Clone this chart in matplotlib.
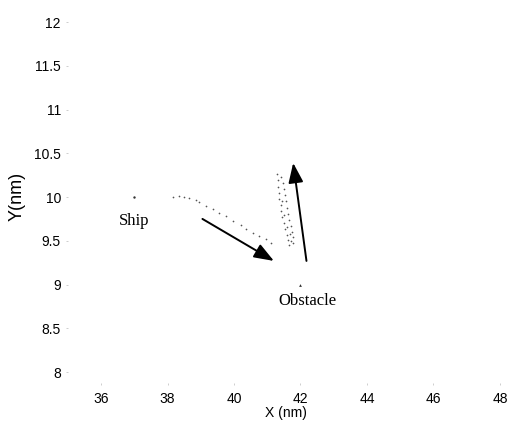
import matplotlib.pyplot as plt

# ship and obstacle positions (nm)
ship_pos = (37.0, 10.0)
obstacle_pos = (42.0, 9.0)

# ship trajectory dots
path_x = [38.16, 38.34, 38.49, 38.64, 38.85, 38.94, 39.15, 39.36, 39.54,
          39.75, 39.96, 40.20, 40.35, 40.56, 40.74, 40.95, 41.10]
path_y = [10.00, 10.01, 10.00, 9.99, 9.97, 9.94, 9.90, 9.86, 9.82,
          9.78, 9.73, 9.68, 9.64, 9.59, 9.56, 9.52, 9.48]

# scattered dots of the turn near the obstacle
band_x = [41.30, 41.42, 41.33, 41.47, 41.31, 41.49, 41.36, 41.52, 41.34, 41.55,
          41.40, 41.58, 41.42, 41.62, 41.45, 41.66, 41.50, 41.70, 41.53, 41.74,
          41.58, 41.77, 41.62, 41.76, 41.66, 41.50, 41.60, 41.45, 41.68, 41.72]
band_y = [10.26, 10.23, 10.19, 10.16, 10.12, 10.09, 10.05, 10.02, 9.98, 9.95,
          9.91, 9.88, 9.84, 9.81, 9.77, 9.74, 9.70, 9.67, 9.63, 9.60,
          9.57, 9.54, 9.51, 9.48, 9.45, 9.80, 9.66, 9.96, 9.58, 9.50]

# direction arrows: (start, end)
arrows = [((39.05, 9.75), (41.20, 9.27)),
          ((42.18, 9.27), (41.78, 10.39))]

x_ticks = [36, 38, 40, 42, 44, 46, 48]
y_ticks = [8, 8.5, 9, 9.5, 10, 10.5, 11, 11.5, 12]
y_tick_labels = ["8", "8.5", "9", "9.5", "10", "10.5", "11", "11.5", "12"]

plt.rcParams['font.family'] = ['Liberation Sans', 'DejaVu Sans']

fig = plt.figure(figsize=(5.1, 4.26), dpi=100)
ax = fig.add_axes([0.133, 0.101, 0.857, 0.878])

ax.scatter(path_x, path_y, s=1.5, color="#555555", linewidths=0)
ax.scatter(band_x, band_y, s=1.5, color="#555555", linewidths=0)
ax.scatter([ship_pos[0]], [ship_pos[1]], s=3, color="#333333", linewidths=0)
ax.scatter([obstacle_pos[0]], [obstacle_pos[1]], s=4, marker="^", color="#333333", linewidths=0)

for start, end in arrows:
    ax.annotate("", xy=end, xytext=start,
                arrowprops=dict(arrowstyle="-|>,head_length=1.2,head_width=0.45",
                                color="black", lw=1.4, shrinkA=0, shrinkB=0))

ax.text(ship_pos[0], 9.73, "Ship", family="Liberation Serif", fontsize=12,
        ha="center", va="center")
ax.text(obstacle_pos[0] + 0.2, 8.81, "Obstacle", family="Liberation Serif", fontsize=12,
        ha="center", va="center")

ax.set_xlim(35, 48.15)
ax.set_ylim(7.875, 12.15)
ax.set_xticks(x_ticks)
ax.set_yticks(y_ticks)
ax.set_yticklabels(y_tick_labels)
ax.tick_params(length=1.5, width=0.5, color="#bbbbbb", labelsize=10)
ax.tick_params(axis="x", pad=5)
for s in ax.spines.values():
    s.set_visible(False)

ax.set_xlabel("X (nm)", fontsize=10, labelpad=0)
ax.set_ylabel("Y(nm)", fontsize=13, labelpad=6)

plt.savefig("out.png", dpi=100)
